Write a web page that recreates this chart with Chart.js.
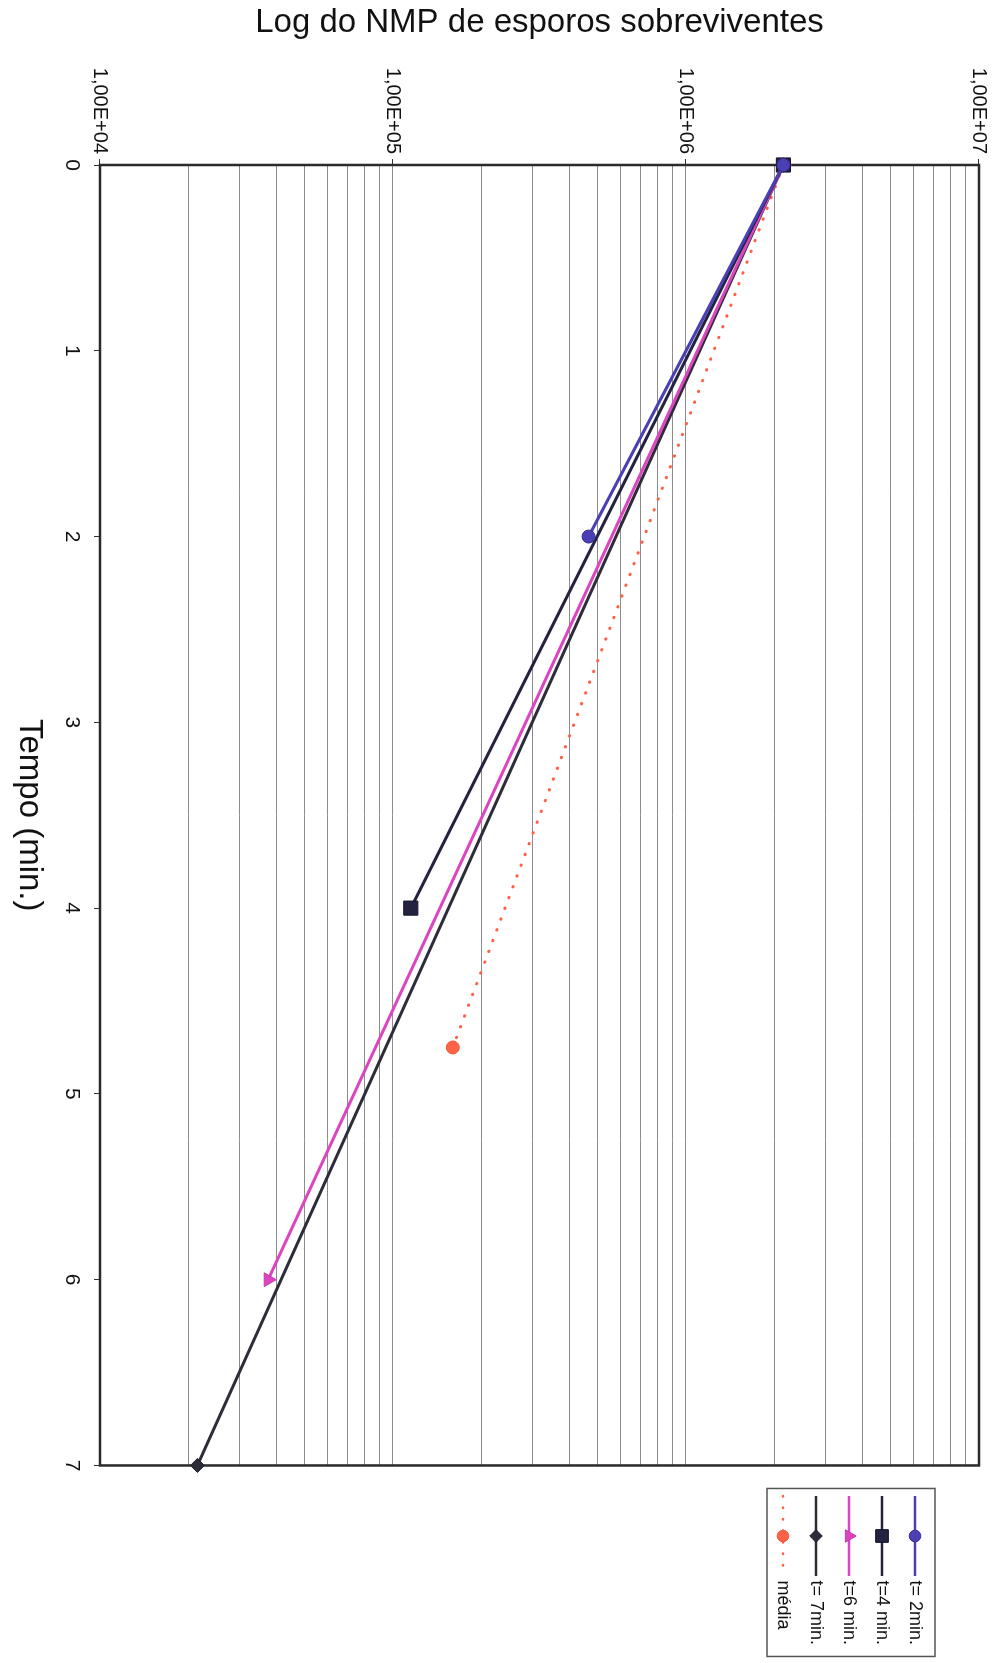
<!DOCTYPE html>
<html>
<head>
<meta charset="utf-8">
<script src="https://cdn.jsdelivr.net/npm/chart.js@4.4.0/dist/chart.umd.min.js"></script>
<style>
  html, body { margin: 0; padding: 0; background: #fff; overflow: hidden; }
  /* o grafico original e desenhado deitado e depois girado 90 graus */
  #giro {
    position: absolute; left: 0; top: 0;
    width: 1663px; height: 1007px;
    transform-origin: 0 0;
    transform: translate(1007px, 0) rotate(90deg);
  }
</style>
</head>
<body>
<div id="giro"><canvas id="esporos" width="1663" height="1007"></canvas></div>
<script>
// Dados (tempo em min, NMP de esporos)
const tempoT2 = [0, 2];
const nmpT2 = [2.15e6, 4.65e5];
const tempoT4 = [0, 4];
const nmpT4 = [2.15e6, 1.15e5];
const tempoT6 = [0, 6];
const nmpT6 = [2.15e6, 3.75e4];
const tempoT7 = [0, 7];
const nmpT7 = [2.15e6, 2.15e4];
const tempoMedia = [0, 4.75];
const nmpMedia = [2.15e6, 1.6e5];

const nomesSeries = ['t= 2min.', 't=4 min.', 't=6 min.', 't= 7min.', 'média'];
const rotulosLog = ['1,00E+04', '1,00E+05', '1,00E+06', '1,00E+07'];

const fonte = "'Liberation Sans', Arial, sans-serif";

const pontos = (xs, ys) => xs.map((x, i) => ({ x: x, y: ys[i] }));

// linhas de grade do eixo log: 1..9 x 10^n
const valoresGrade = [];
for (let e = 4; e < 7; e++) {
  for (let m = 1; m <= 9; m++) valoresGrade.push(m * Math.pow(10, e));
}
valoresGrade.push(1e7);
const ehDecada = v => Math.abs(Math.log10(v) - Math.round(Math.log10(v))) < 1e-9;

const $esporos = document.querySelector('#esporos');

const datasets = [
  { label: nomesSeries[0], data: pontos(tempoT2, nmpT2), borderColor: '#4b3fb5', pointBackgroundColor: '#4b3fb5', pointBorderColor: '#3a308f', pointStyle: 'circle', pointRadius: 6.5 },
  { label: nomesSeries[1], data: pontos(tempoT4, nmpT4), borderColor: '#23233f', pointBackgroundColor: '#23233f', pointBorderColor: '#15152a', pointStyle: 'rect', pointRadius: 10 },
  { label: nomesSeries[2], data: pontos(tempoT6, nmpT6), borderColor: '#dc45bf', pointBackgroundColor: '#dc45bf', pointBorderColor: '#c23aa8', pointStyle: 'triangle', pointRadius: 8 },
  { label: nomesSeries[3], data: pontos(tempoT7, nmpT7), borderColor: '#2d2d3a', pointBackgroundColor: '#2d2d3a', pointBorderColor: '#1d1d28', pointStyle: 'rectRot', pointRadius: 7 },
  { label: nomesSeries[4], data: pontos(tempoMedia, nmpMedia), borderColor: '#ff6347', pointBackgroundColor: '#ff6347', pointBorderColor: '#f05a3e', pointStyle: 'circle', pointRadius: 6.5, borderDash: [0.5, 11], borderCapStyle: 'round' }
].map(ds => Object.assign({ borderWidth: 3, pointBorderWidth: 1, clip: false, tension: 0 }, ds));

// simbolo de legenda estilo Excel: linha com o marcador no meio
function simboloLegenda(ds) {
  const c = document.createElement('canvas');
  c.width = 100; c.height = 22;
  const g = c.getContext('2d');
  g.strokeStyle = ds.borderColor;
  g.lineWidth = 2.5;
  g.lineCap = ds.borderCapStyle || 'butt';
  g.setLineDash(ds.borderDash || []);
  g.beginPath(); g.moveTo(20, 11); g.lineTo(100, 11); g.stroke();
  g.setLineDash([]);
  g.fillStyle = ds.pointBackgroundColor;
  g.strokeStyle = ds.pointBorderColor;
  g.lineWidth = 1;
  if (Chart.helpers && Chart.helpers.drawPoint) {
    Chart.helpers.drawPoint(g, { pointStyle: ds.pointStyle, radius: ds.pointRadius * 0.9, borderWidth: 1, rotation: 0 }, 60, 11);
  } else {
    g.beginPath(); g.arc(60, 11, 6, 0, Math.PI * 2); g.fill(); g.stroke();
  }
  return c;
}
const simbolos = datasets.map(simboloLegenda);

const molduras = {
  id: 'molduras',
  beforeDatasetsDraw(chart) {
    const { ctx, chartArea: a } = chart;
    ctx.save();
    ctx.strokeStyle = '#2a2a2a';
    ctx.lineWidth = 2.5;
    ctx.strokeRect(a.left, a.top, a.right - a.left, a.bottom - a.top);
    ctx.restore();
  },
  afterDraw(chart) {
    const hb = chart.legend && chart.legend.legendHitBoxes;
    if (!hb || !hb.length) return;
    const ultimo = hb[hb.length - 1];
    const x0 = hb[0].left + 8, y0 = hb[0].top - 11;
    const ctx = chart.ctx;
    ctx.save();
    ctx.strokeStyle = '#555';
    ctx.lineWidth = 1.5;
    ctx.strokeRect(x0, y0, 168, ultimo.top + ultimo.height + 7 - y0);
    ctx.restore();
  }
};

new Chart($esporos, {
  type: 'line',
  data: { datasets },
  options: {
    responsive: false,
    animation: false,
    devicePixelRatio: 1,
    layout: { padding: { top: 28, right: 8, bottom: 0, left: 0 } },
    plugins: {
      tooltip: { enabled: false },
      legend: {
        position: 'right',
        align: 'start',
        title: { display: true, text: ' ', font: { size: 10 }, padding: { top: 14, bottom: 14 } },
        labels: {
          usePointStyle: true,
          pointStyleWidth: 91,
          padding: 15,
          color: '#111',
          font: { family: fonte, size: 18 },
          generateLabels: chart => chart.data.datasets.map((ds, i) => ({
            text: ds.label, datasetIndex: i, pointStyle: simbolos[i],
            fillStyle: 'rgba(0,0,0,0)', strokeStyle: 'rgba(0,0,0,0)', lineWidth: 0,
            fontColor: '#111', hidden: false
          }))
        }
      }
    },
    scales: {
      x: {
        type: 'linear', position: 'bottom', min: 0, max: 7,
        afterFit: s => { s.height = 100; },
        ticks: { stepSize: 1, padding: 10, color: '#111', font: { family: fonte, size: 21 } },
        grid: { drawOnChartArea: false, tickLength: 6, tickColor: '#333' },
        border: { display: false },
        title: { display: true, text: 'Tempo (min.)', color: '#111', font: { family: fonte, size: 33 }, padding: { top: 0, bottom: 9 } }
      },
      y: {
        type: 'logarithmic', position: 'left', min: 1e4, max: 1e7,
        afterFit: s => { s.width = 165; },
        afterBuildTicks: s => { s.ticks = valoresGrade.map(v => ({ value: v, major: ehDecada(v) })); },
        ticks: {
          autoSkip: false, padding: 5, color: '#111', font: { family: fonte, size: 20 },
          callback: v => ehDecada(v) ? rotulosLog[Math.round(Math.log10(v)) - 4] : ''
        },
        grid: {
          color: '#8c8c8c', lineWidth: 1, tickLength: 6,
          tickColor: c => (c.tick && ehDecada(c.tick.value)) ? '#333' : 'rgba(0,0,0,0)'
        },
        border: { display: false },
        title: { display: true, text: 'Log do NMP de esporos sobreviventes', color: '#111', font: { family: fonte, size: 33 }, padding: { top: 3, bottom: 0 } }
      }
    }
  },
  plugins: [molduras]
});
</script>
</body>
</html>
